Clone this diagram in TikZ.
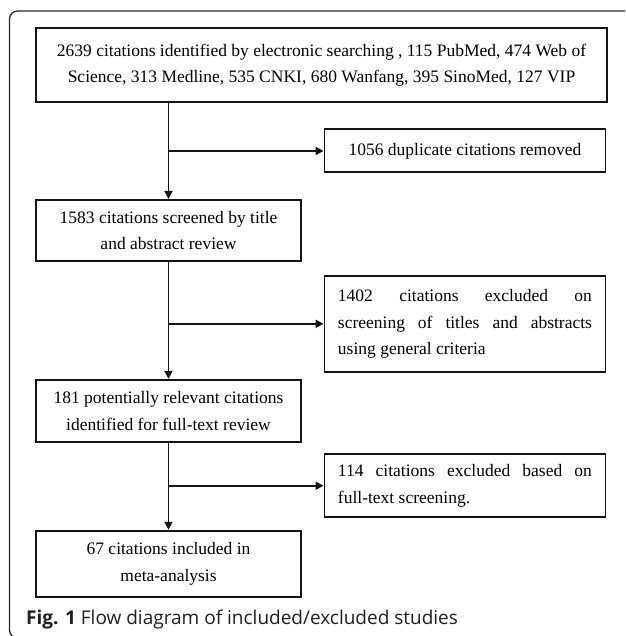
\documentclass[tikz,border=0pt]{standalone}
\usepackage{fontspec}
\setmainfont{Liberation Serif}
\newfontfamily\capfont{Open Sans}
\usetikzlibrary{positioning,arrows.meta}
\definecolor{ln}{RGB}{20,20,20}
\definecolor{fr}{RGB}{40,40,40}
\definecolor{tx}{RGB}{35,31,32}

\begin{document}
\begin{tikzpicture}[
    font=\fontsize{17.5pt}{26.5pt}\selectfont,
    l/.style={
        line width=1.9pt,
        color=ln,
        -{Triangle[length=8pt,width=8pt]}
    },
    b/.style={
        draw=ln, line width=1.9pt, align=center,
        minimum width=265pt, inner sep=4pt
    },
    s/.style={
        draw=ln, line width=1.9pt, text width=254pt, align=justify,
        inner xsep=13.5pt, inner ysep=4pt
    },
    fr/.style={rounded corners=8pt, line width=1.3pt, draw=fr}
]

\useasboundingbox (0,0) rectangle (625pt,-636pt);
\clip (0,0) rectangle (625pt,-636pt);
\draw [fr] (9.5pt,-11pt) rectangle (700pt,-638pt);

\node [b,minimum width=571pt,minimum height=74pt] (src) at (321.5pt,-65pt)
    {2639 citations identified by electronic searching , 115 PubMed, 474 Web of\\
     Science, 313 Medline, 535 CNKI, 680 Wanfang, 395 SinoMed, 127 VIP};
\node [b,minimum height=61pt,below right=96pt and 0pt of src.south west] (scr)
    {1583 citations screened by title\\ and abstract review};
\node [b,minimum height=62pt,below=117pt of scr] (full)
    {181 potentially relevant citations\\ identified for full-text review};
\node [b,minimum height=66pt,below=87pt of full] (inc)
    {67 citations included in\\ meta-analysis};

\coordinate [above=48pt of scr.north] (br1);
\coordinate [above=55pt of full.north] (br2);
\coordinate [above=44pt of inc.north] (br3);

\node [s,minimum height=43pt,right=155pt of br1] (dup)
    {\centering 1056 duplicate citations removed\par};
\node [s,minimum height=96pt,right=155pt of br2] (ex1)
    {1402 citations excluded on\linebreak screening of titles and abstracts\linebreak using general criteria};
\node [s,minimum height=63pt,right=155pt of br3] (ex2)
    {114 citations excluded based on\linebreak full-text screening.};

\draw [l] (src.south -| scr.north) -- (scr);
\draw [l] (scr) -- (full);
\draw [l] (full) -- (inc);

\draw [l] (br1) -- (dup.west |- br1);
\draw [l] (br2) -- (ex1.west |- br2);
\draw [l] (br3) -- (ex2.west |- br3);

\node [anchor=base west,inner sep=0pt,text=tx] (cap) at (26pt,-624pt)
    {\capfont\fontsize{19pt}{19pt}\selectfont\textbf{Fig. 1} Flow diagram of included/excluded studies};

\end{tikzpicture}
\end{document}
